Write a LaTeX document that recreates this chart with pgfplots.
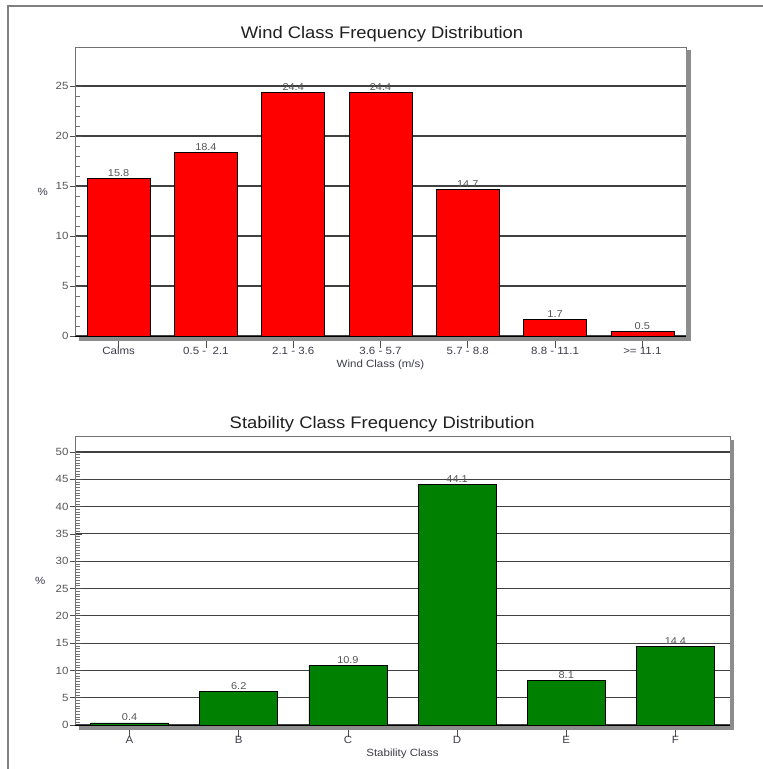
\documentclass[border=0pt]{standalone}
\usepackage{fontspec}
\setmainfont{Liberation Sans}[FakeStretch=1.1]
\usepackage{pgfplots}
\pgfplotsset{compat=1.18}
\definecolor{barred}{RGB}{255,0,0}
\definecolor{bargreen}{RGB}{0,128,0}
\definecolor{lbl}{RGB}{60,60,75}
\definecolor{tlbl}{RGB}{85,85,85}
\definecolor{frame}{RGB}{128,128,128}

\pgfplotsset{
  freqchart/.style={
    scale only axis, anchor=south west,
    axis line style={black!55, line width=0.8bp},
    ymin=0, xmin=-0.5,
    ymajorgrids, major grid style={black!75, line width=1.1bp},
    xtick align=center, ytick align=inside,
    major tick length=12bp, minor tick length=5bp,
    every major y tick/.append style={xshift=-5bp},
    tick style={black!70, line width=0.7bp},
    minor tick style={black!55, line width=0.6bp},
    ytick pos=left, xtick pos=bottom,
    /pgf/number format/assume math mode=true,
    ticklabel style={font=\fontsize{10.5}{12}\selectfont},
    yticklabel style={text=tlbl, xshift=-3bp},
    xticklabel style={text=lbl, yshift=4.5bp},
    every axis y label/.style={at={(axis description cs:-0.053,0.5)}, anchor=center, font=\fontsize{10.5}{12}\selectfont, text=lbl},
    every axis x label/.style={at={(axis description cs:0.5,-0.082)}, anchor=north, inner sep=0pt, font=\fontsize{10.5}{12}\selectfont, text=lbl},
    every axis title/.style={anchor=base, font=\fontsize{16.8}{20}\selectfont, text=black!88},
    ybar, 
    nodes near coords,
    every node near coord/.append style={font=\fontsize{10}{12}\selectfont, text=tlbl, anchor=south, inner sep=0pt, yshift=1.5bp, /pgf/number format/fixed, /pgf/number format/fixed zerofill, /pgf/number format/precision=1},
  }
}

\begin{document}
\begin{tikzpicture}
\useasboundingbox (0,0) rectangle (763bp,-769bp);
\draw[frame, line width=1.5bp] (8bp,-769bp) -- (8bp,-6bp) -- (763bp,-6bp);

% Wind class chart
\begin{axis}[freqchart,
  at={(75bp,-336bp)}, width=611bp, height=289bp,
  xmax=6.5, ymax=28.9,
  ytick={0,5,...,25}, minor y tick num=4,
  xtick={0,...,6},
  xticklabels={Calms, {0.5 -\ \ 2.1}, {2.1 - 3.6}, {3.6 - 5.7}, {5.7 - 8.8}, {8.8 - 11.1}, {>= 11.1}},
  bar width=63bp,
  title={Wind Class Frequency Distribution},
  title style={at={(axis description cs:0.5025,1.031)}},
  xlabel={Wind Class (m/s)},
  ylabel={\%},
]
\addplot[fill=barred, draw=black, line width=0.6bp] coordinates {
  (0,15.8) (1,18.4) (2,24.4) (3,24.4) (4,14.7) (5,1.7) (6,0.5)
};
\end{axis}
\fill[black!45] (686bp,-50bp) rectangle (690.5bp,-341bp);
\fill[black!45] (79bp,-337bp) rectangle (690.5bp,-341bp);
\draw[black, line width=1.6bp] (75bp,-336.5bp) -- (686bp,-336.5bp);

% Stability class chart
\begin{axis}[freqchart,
  at={(75bp,-725bp)}, width=655bp, height=288.3bp,
  xmax=5.5, ymax=52.8,
  ytick={0,5,...,50}, minor y tick num=9,
  xtick={0,...,5},
  xticklabels={A,B,C,D,E,F},
  bar width=78bp,
  title={Stability Class Frequency Distribution},
  title style={at={(axis description cs:0.469,1.030)}},
  xlabel={Stability Class},
  ylabel={\%},
]
\addplot[fill=bargreen, draw=black, line width=0.6bp] coordinates {
  (0,0.4) (1,6.2) (2,10.9) (3,44.1) (4,8.1) (5,14.4)
};
\end{axis}
\fill[black!45] (730bp,-440bp) rectangle (734bp,-729.5bp);
\fill[black!45] (79bp,-726bp) rectangle (734bp,-729.5bp);
\draw[black, line width=1.6bp] (75bp,-725.5bp) -- (730bp,-725.5bp);
\end{tikzpicture}
\end{document}
